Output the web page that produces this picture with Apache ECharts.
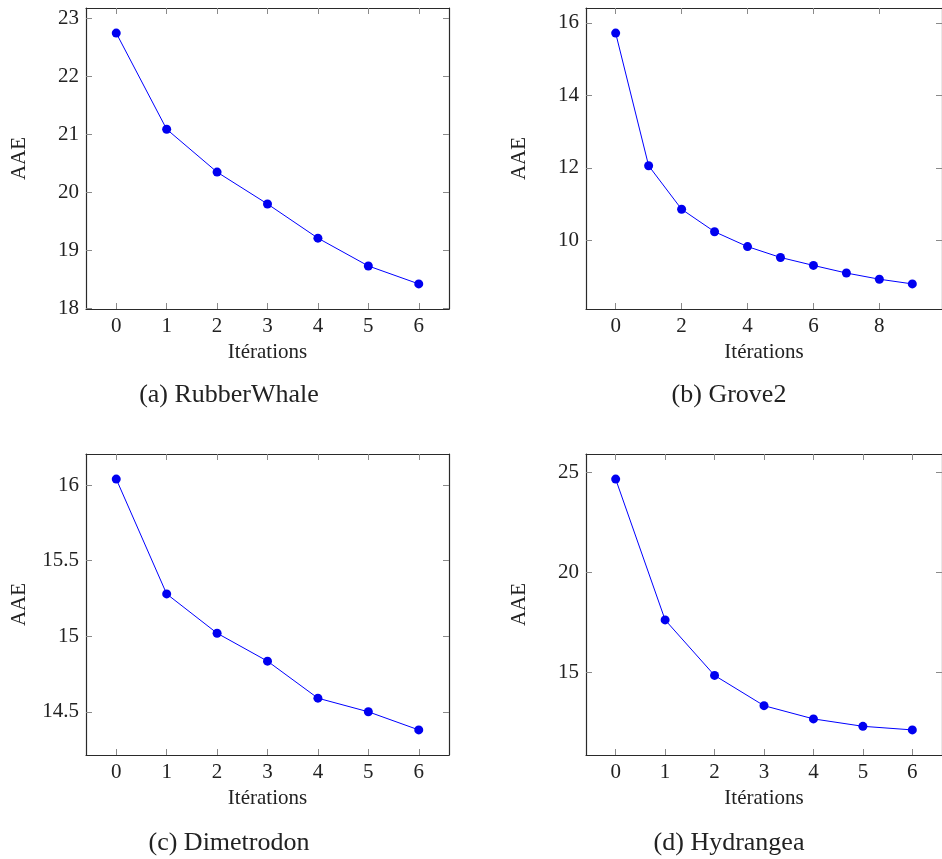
<!DOCTYPE html>
<html>
<head>
<meta charset="utf-8">
<script src="https://cdn.jsdelivr.net/npm/echarts@6/dist/echarts.min.js"></script>
<style>
html,body{margin:0;padding:0;background:#fff;}
#chart{width:942px;height:859px;}
</style>
</head>
<body>
<div id="chart"></div>
<script>
// ---- data ----
const iterA = [0, 1, 2, 3, 4, 5, 6];
const iterB = [0, 1, 2, 3, 4, 5, 6, 7, 8, 9];
const aaeRubberWhale = [22.75, 21.09, 20.35, 19.80, 19.21, 18.73, 18.42];
const aaeGrove2 = [15.72, 12.06, 10.86, 10.24, 9.83, 9.53, 9.31, 9.10, 8.93, 8.80];
const aaeDimetrodon = [16.04, 15.28, 15.02, 14.835, 14.59, 14.50, 14.38];
const aaeHydrangea = [24.65, 17.62, 14.85, 13.34, 12.68, 12.31, 12.13];

const xTicks7 = [0, 1, 2, 3, 4, 5, 6];
const xTicks10 = [0, 2, 4, 6, 8];
const yTicksA = [18, 19, 20, 21, 22, 23];
const yTicksB = [10, 12, 14, 16];
const yTicksC = [14.5, 15, 15.5, 16];
const yTicksD = [15, 20, 25];

const captions = ['(a) RubberWhale', '(b) Grove2', '(c) Dimetrodon', '(d) Hydrangea'];
const xName = 'Itérations';
const yName = 'AAE';

// ---- layout ----
const FONT = 'Liberation Serif';
const panels = [
  { x: iterA, y: aaeRubberWhale, xt: xTicks7, yt: yTicksA, left: 86, top: 8, cap: captions[0], cx: 229, cy: 395 },
  { x: iterB, y: aaeGrove2, xt: xTicks10, yt: yTicksB, left: 586, top: 8, cap: captions[1], cx: 729, cy: 395 },
  { x: iterA, y: aaeDimetrodon, xt: xTicks7, yt: yTicksC, left: 86, top: 454, cap: captions[2], cx: 229, cy: 843 },
  { x: iterA, y: aaeHydrangea, xt: xTicks7, yt: yTicksD, left: 586, top: 454, cap: captions[3], cx: 729, cy: 843 }
];
const W = 363, H = 301;

function enlarge(arr) {
  const mn = Math.min(...arr), mx = Math.max(...arr);
  const d = (mx - mn) * 0.1;
  return [mn - d, mx + d];
}

const grid = [], xAxis = [], yAxis = [], series = [], graphic = [];
const lineStyle = { color: '#2a2a2a', width: 1.2 };
const tickStyle = { color: '#8a8a8a', width: 1 };

panels.forEach((p, i) => {
  grid.push({ left: p.left, top: p.top, width: W, height: H, containLabel: false });
  const [xmin, xmax] = enlarge(p.x);
  const [ymin, ymax] = enlarge(p.y);
  xAxis.push({
    type: 'value', gridIndex: i, position: 'bottom', min: xmin, max: xmax,
    axisLine: { show: true, onZero: false, lineStyle },
    axisTick: { show: true, inside: true, length: 6, customValues: p.xt, lineStyle: tickStyle },
    axisLabel: { show: true, customValues: p.xt, margin: 7, color: '#222', fontFamily: FONT, fontSize: 21 },
    splitLine: { show: false },
    name: xName, nameLocation: 'middle', nameGap: 33,
    nameTextStyle: { color: '#222', fontFamily: FONT, fontSize: 21 }
  });
  xAxis.push({
    type: 'value', gridIndex: i, position: 'top', min: xmin, max: xmax,
    axisLine: { show: true, onZero: false, lineStyle },
    axisTick: { show: true, inside: true, length: 6, customValues: p.xt, lineStyle: tickStyle },
    axisLabel: { show: false },
    splitLine: { show: false }
  });
  yAxis.push({
    type: 'value', gridIndex: i, position: 'left', min: ymin, max: ymax,
    axisLine: { show: true, onZero: false, lineStyle },
    axisTick: { show: true, inside: true, length: 6, customValues: p.yt, lineStyle: tickStyle },
    axisLabel: { show: true, customValues: p.yt, margin: 7, color: '#222', fontFamily: FONT, fontSize: 21 },
    splitLine: { show: false },
    name: yName, nameLocation: 'middle', nameGap: 56, nameRotate: 90,
    nameTextStyle: { color: '#222', fontFamily: FONT, fontSize: 21 }
  });
  yAxis.push({
    type: 'value', gridIndex: i, position: 'right', min: ymin, max: ymax,
    axisLine: { show: true, onZero: false, lineStyle },
    axisTick: { show: true, inside: true, length: 6, customValues: p.yt, lineStyle: tickStyle },
    axisLabel: { show: false },
    splitLine: { show: false }
  });
  series.push({
    type: 'line', xAxisIndex: 2 * i, yAxisIndex: 2 * i,
    data: p.x.map((v, j) => [v, p.y[j]]),
    symbol: 'circle', symbolSize: 9, showAllSymbol: true,
    lineStyle: { color: '#0000ff', width: 1 },
    itemStyle: { color: '#0000f0' },
    animation: false
  });
  graphic.push({
    type: 'text', x: p.cx, y: p.cy,
    style: { text: p.cap, fontFamily: FONT, fontSize: 26, fill: '#222', align: 'center', verticalAlign: 'middle' }
  });
});

const chart = echarts.init(document.getElementById('chart'), null, { renderer: 'canvas' });
chart.setOption({
  backgroundColor: '#fff',
  animation: false,
  grid, xAxis, yAxis, series, graphic
});
</script>
</body>
</html>
